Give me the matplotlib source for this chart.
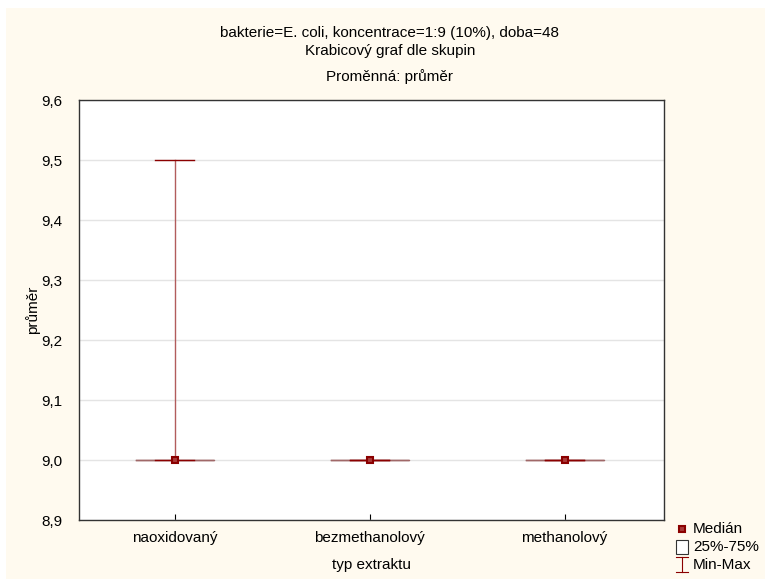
import matplotlib.pyplot as plt
from matplotlib.patches import Rectangle
from matplotlib.lines import Line2D

plt.rcParams['font.family'] = ['Liberation Sans', 'DejaVu Sans']

# ========== DATA ==========
groups = ["naoxidovaný", "bezmethanolový", "methanolový"]
medians = [9.0, 9.0, 9.0]
q1 = [9.0, 9.0, 9.0]
q3 = [9.0, 9.0, 9.0]
mins = [9.0, 9.0, 9.0]
maxs = [9.5, 9.0, 9.0]
yticks = [8.9, 9.0, 9.1, 9.2, 9.3, 9.4, 9.5, 9.6]

RED = '#8b0000'
CREAM = '#fffaef'
FS = 11

# ========== FIGURE ==========
fig = plt.figure(figsize=(7.65, 5.79), dpi=100, facecolor='white')
fig.add_artist(Rectangle((6 / 765, 0), 1, 1 - 8 / 579, transform=fig.transFigure,
                         facecolor=CREAM, edgecolor='none', zorder=-10))

ax = fig.add_axes([79 / 765, 1 - 520 / 579, (664 - 79) / 765, 420 / 579])
ax.set_facecolor('white')

stats = []
for i, g in enumerate(groups):
    stats.append(dict(med=medians[i], q1=q1[i], q3=q3[i],
                      whislo=mins[i], whishi=maxs[i], fliers=[], label=g))

pos = list(range(len(groups)))
ax.bxp(stats, positions=pos, widths=0.4, capwidths=0.2, showfliers=False,
       boxprops=dict(color='#a06868', linewidth=1),
       whiskerprops=dict(color='#b25c5c', linewidth=1),
       capprops=dict(color=RED, linewidth=1),
       medianprops=dict(color='none'))
ax.plot(pos, medians, linestyle='none', marker='s', markersize=5,
        markerfacecolor='#a83a3a', markeredgecolor=RED, markeredgewidth=1.5, zorder=5)

ax.set_xlim(-0.49, 2.51)
ax.set_ylim(8.9, 9.6)
ax.set_yticks(yticks)
ax.set_yticklabels([f"{v:.1f}".replace('.', ',') for v in yticks], fontsize=FS)
ax.set_xticks(pos)
ax.set_xticklabels(groups, fontsize=FS)
ax.tick_params(axis='y', length=0, pad=12)
ax.tick_params(axis='x', direction='in', length=4, pad=8)
ax.grid(axis='y', color='#e4e4e4', linewidth=1)
ax.set_axisbelow(True)
for s in ax.spines.values():
    s.set_color('#333333')
    s.set_linewidth(1)

ax.set_ylabel("průměr", fontsize=FS, labelpad=1)
ax.set_xlabel("typ extraktu", fontsize=FS, labelpad=9)

fig.text(390 / 765, 1 - 33 / 579, "bakterie=E. coli, koncentrace=1:9 (10%), doba=48",
         ha='center', va='center', fontsize=FS)
fig.text(390 / 765, 1 - 51 / 579, "Krabicový graf dle skupin",
         ha='center', va='center', fontsize=FS)
fig.text(390 / 765, 1 - 77 / 579, "Proměnná: průměr",
         ha='center', va='center', fontsize=FS)

# ========== LEGEND ==========
def fx(px):
    return px / 765

def fy(py):
    return 1 - py / 579

fig.add_artist(Line2D([fx(682)], [fy(529)], marker='s', markersize=4,
                      markerfacecolor='#a83a3a', markeredgecolor=RED, markeredgewidth=1.5,
                      transform=fig.transFigure))
fig.add_artist(Rectangle((fx(676), fy(554)), 12 / 765, 14 / 579, transform=fig.transFigure,
                         facecolor='white', edgecolor='#333333', linewidth=0.8))
fig.add_artist(Line2D([fx(682), fx(682)], [fy(557), fy(572)], color=RED, linewidth=0.8,
                      transform=fig.transFigure))
fig.add_artist(Line2D([fx(676), fx(688)], [fy(557), fy(557)], color=RED, linewidth=0.8,
                      transform=fig.transFigure))
fig.add_artist(Line2D([fx(676), fx(688)], [fy(572), fy(572)], color=RED, linewidth=0.8,
                      transform=fig.transFigure))
for label, py in [("Medián", 529), ("25%-75%", 547), ("Min-Max", 565)]:
    fig.text(fx(693), fy(py), label, ha='left', va='center', fontsize=FS)

fig.savefig("out.png", dpi=100, facecolor=fig.get_facecolor())
